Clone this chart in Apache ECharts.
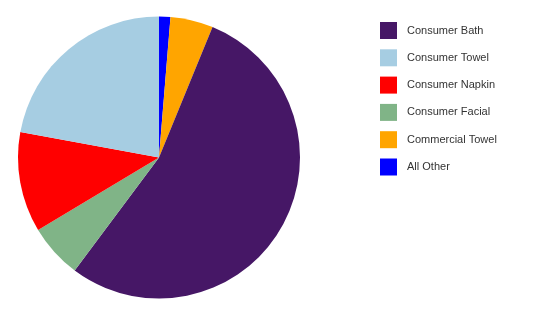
<!DOCTYPE html>
<html>
<head>
<meta charset="utf-8">
<script src="https://cdn.jsdelivr.net/npm/echarts@6/dist/echarts.min.js"></script>
<style>
html,body{margin:0;padding:0;background:#fff;}
#chart{width:550px;height:318px;}
</style>
</head>
<body>
<div id="chart"></div>
<script>
// Legend order
var legendOrder = ['Consumer Bath','Consumer Towel','Consumer Napkin','Consumer Facial','Commercial Towel','All Other'];
// Drawing order (clockwise from 12 o'clock)
var categories = ['All Other','Commercial Towel','Consumer Bath','Consumer Facial','Consumer Napkin','Consumer Towel'];
var values = [1.3, 4.9, 54.0, 6.2, 11.5, 22.1];
var colors = ['#0000ff','#ffa500','#461766','#80b487','#ff0000','#a6cde2'];

var data = categories.map(function(c,i){
  return {name:c, value:values[i], itemStyle:{color:colors[i]}};
});

var chart = echarts.init(document.getElementById('chart'));
chart.setOption({
  animation:false,
  backgroundColor:'#ffffff',
  legend:{
    data:legendOrder,
    orient:'vertical',
    left:380, top:22,
    padding:0,
    itemWidth:17, itemHeight:17, itemGap:10.3,
    icon:'rect',
    textStyle:{fontFamily:'Liberation Sans, Arial, sans-serif', fontSize:11, color:'#333', padding:[0,0,0,5]}
  },
  series:[{
    type:'pie',
    center:[159,157.5],
    radius:[0,141],
    startAngle:90,
    clockwise:true,
    label:{show:false},
    labelLine:{show:false},
    itemStyle:{borderWidth:0},
    emphasis:{disabled:true},
    data:data
  }]
});
</script>
</body>
</html>
